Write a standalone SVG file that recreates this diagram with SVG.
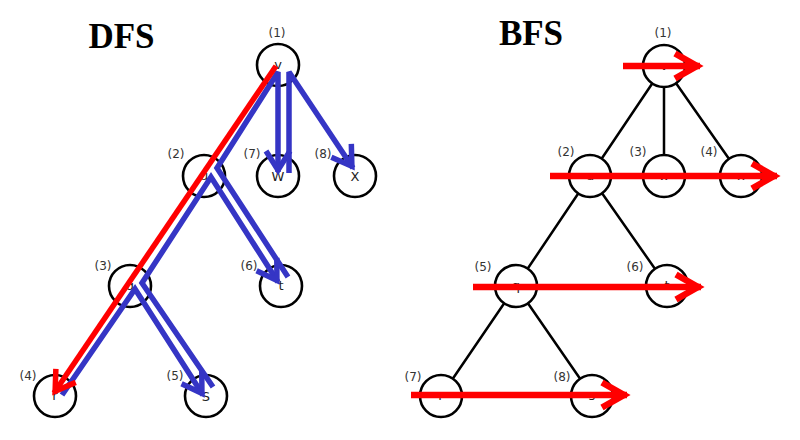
<svg xmlns="http://www.w3.org/2000/svg" width="800" height="440" viewBox="0 0 800 440">
<style>
.title{font-family:"Liberation Serif",serif;font-weight:bold;font-size:35px;fill:#000;text-anchor:middle}
.nd{fill:#fff;stroke:#000;stroke-width:2.6}
.lt{font-family:"DejaVu Sans",sans-serif;font-size:13px;fill:#222;text-anchor:middle}
.lb{font-family:"DejaVu Sans",sans-serif;font-size:12px;fill:#333;text-anchor:middle}
.edge{stroke:#000;stroke-width:2.5;fill:none}
.blue{stroke:#3535c5;stroke-width:5.5;fill:none;stroke-linejoin:miter;stroke-miterlimit:2;marker-end:url(#hb)}
.red{stroke:#ff0000;stroke-width:5.5;fill:none;marker-end:url(#hr)}
.redb{stroke:#ff0000;stroke-width:6.5;fill:none;marker-end:url(#hr2)}
</style>
<defs>
<marker id="hb" markerUnits="userSpaceOnUse" markerWidth="40" markerHeight="40" refX="0" refY="0" orient="auto" overflow="visible"><path d="M-21,-12 L-2,0 L-21,12" fill="none" stroke="#3535c5" stroke-width="5.5"/></marker>
<marker id="hr" markerUnits="userSpaceOnUse" markerWidth="40" markerHeight="40" refX="0" refY="0" orient="auto" overflow="visible"><path d="M-21,-12 L-2,0 L-21,12" fill="none" stroke="#ff0000" stroke-width="5.5"/></marker>
<marker id="hr2" markerUnits="userSpaceOnUse" markerWidth="40" markerHeight="40" refX="0" refY="0" orient="auto" overflow="visible"><path d="M-25,-12.5 L-3,0 L-25,12.5" fill="none" stroke="#ff0000" stroke-width="6.5"/></marker>
</defs>
<rect width="800" height="440" fill="#fff"/>
<text class="title" x="121.5" y="48">DFS</text>
<text class="title" x="531" y="45">BFS</text>

<g id="bfs-edges">
<path class="edge" d="M664,66 L590,176 M664,66 L664,176 M664,66 L741,176 M590,176 L516,286 M590,176 L667,286 M516,286 L441,396 M516,286 L592,396"/>
</g>

<g id="dfs-v"><circle class="nd" cx="278" cy="65" r="21"/><text class="lt" x="278" y="69">v</text><text class="lb" x="277" y="37">(1)</text></g>
<g id="dfs-u"><circle class="nd" cx="204" cy="176" r="21"/><text class="lt" x="204" y="180">u</text><text class="lb" x="176" y="158">(2)</text></g>
<g id="dfs-w"><circle class="nd" cx="278" cy="176" r="21"/><text class="lt" x="278" y="181">W</text><text class="lb" x="252" y="158">(7)</text></g>
<g id="dfs-x"><circle class="nd" cx="355" cy="176" r="21"/><text class="lt" x="355" y="181">X</text><text class="lb" x="323" y="158">(8)</text></g>
<g id="dfs-q"><circle class="nd" cx="130" cy="286" r="21"/><text class="lt" x="130" y="290">q</text><text class="lb" x="103" y="270">(3)</text></g>
<g id="dfs-t"><circle class="nd" cx="281" cy="286" r="21"/><text class="lt" x="281" y="290">t</text><text class="lb" x="249" y="270">(6)</text></g>
<g id="dfs-r"><circle class="nd" cx="55" cy="396" r="21"/><text class="lt" x="55" y="400">r</text><text class="lb" x="28" y="380">(4)</text></g>
<g id="dfs-s"><circle class="nd" cx="206" cy="396" r="21"/><text class="lt" x="206" y="401">S</text><text class="lb" x="175" y="380">(5)</text></g>

<g id="bfs-v"><circle class="nd" cx="664" cy="66" r="21"/><text class="lt" x="664" y="70">v</text><text class="lb" x="663" y="37">(1)</text></g>
<g id="bfs-u"><circle class="nd" cx="590" cy="176" r="21"/><text class="lt" x="590" y="180">u</text><text class="lb" x="566" y="156">(2)</text></g>
<g id="bfs-w"><circle class="nd" cx="664" cy="176" r="21"/><text class="lt" x="664" y="180">w</text><text class="lb" x="638" y="156">(3)</text></g>
<g id="bfs-x"><circle class="nd" cx="741" cy="176" r="21"/><text class="lt" x="741" y="180">x</text><text class="lb" x="709" y="156">(4)</text></g>
<g id="bfs-q"><circle class="nd" cx="516" cy="286" r="21"/><text class="lt" x="516" y="290">q</text><text class="lb" x="483" y="271">(5)</text></g>
<g id="bfs-t"><circle class="nd" cx="667" cy="286" r="21"/><text class="lt" x="667" y="290">t</text><text class="lb" x="635" y="271">(6)</text></g>
<g id="bfs-r"><circle class="nd" cx="441" cy="396" r="21"/><text class="lt" x="441" y="400">r</text><text class="lb" x="413" y="381">(7)</text></g>
<g id="bfs-s"><circle class="nd" cx="592" cy="396" r="21"/><text class="lt" x="592" y="400">s</text><text class="lb" x="562" y="381">(8)</text></g>

<g id="connectors">
<path class="blue" d="M62,395 L135,289 L203,395"/>
<path class="blue" d="M213,387 L142,283 L211,177 L278,282"/>
<path class="blue" d="M288,277 L217,168 L278,72 L278,172"/>
<path class="blue" d="M289,173 L289,72 L353,168"/>
<path class="red" d="M276,66 L54,393"/>
<path class="redb" d="M623,66 L700,66"/>
<path class="redb" d="M550,176 L777,176"/>
<path class="redb" d="M473,287 L701,287"/>
<path class="redb" d="M411,395 L627,395"/>
</g>
</svg>
